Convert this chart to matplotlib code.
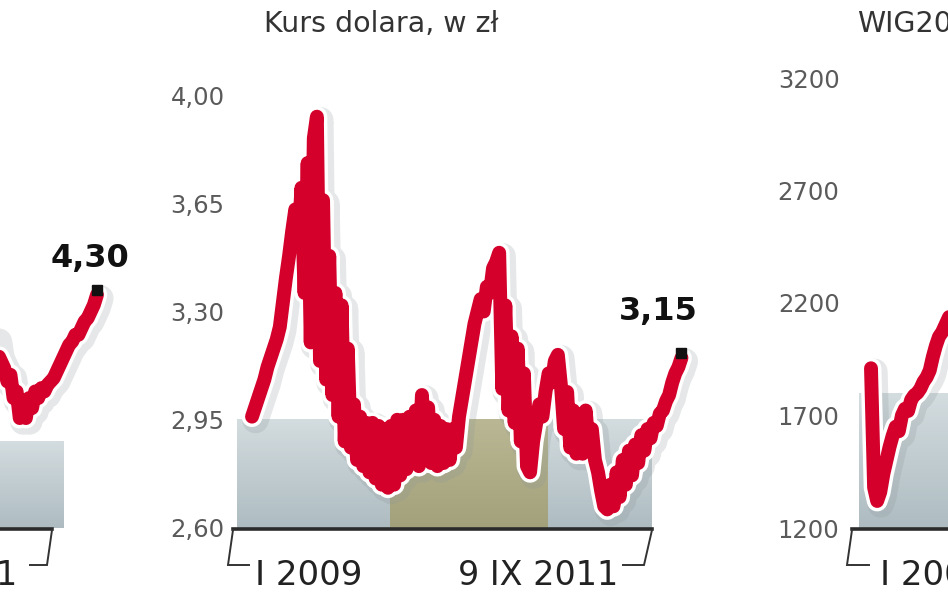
import matplotlib
matplotlib.use("Agg")
import matplotlib.pyplot as plt
import matplotlib.patheffects as pe
import matplotlib.transforms as mtransforms
from matplotlib import font_manager
from matplotlib.colors import LinearSegmentedColormap
from matplotlib.lines import Line2D
import numpy as np

W, H = 948, 593

# --- data: weekly readings, week 0 = I 2009, week 139 = 9 IX 2011 ---
usd_pln = [
    2.96, 2.99, 3.02, 3.05, 3.08, 3.12, 3.15, 3.18, 3.21, 3.25,
    3.33, 3.41, 3.48, 3.56, 3.63,
    3.52, 3.70, 3.36, 3.78, 3.20, 3.86, 3.93, 3.14, 3.66, 3.08,
    3.48, 3.03, 3.36, 2.96, 3.32, 2.88, 3.18, 2.86,
    3.00, 2.82, 2.96, 2.80, 2.94, 2.78, 2.94, 2.76, 2.93, 2.74,
    2.92, 2.73, 2.93, 2.74, 2.95, 2.77, 2.95, 2.79, 2.96, 2.82,
    2.98, 2.80, 3.03, 2.84, 2.99, 2.81, 2.95, 2.80, 2.93, 2.81,
    2.92, 2.82, 2.92, 2.86,
    2.96, 3.02, 3.08, 3.14, 3.20, 3.26, 3.30, 3.34, 3.30, 3.38,
    3.36, 3.44, 3.46, 3.49,
    3.05, 3.32, 2.98, 3.22, 2.94, 3.18, 2.88, 3.10, 2.80,
    2.78, 2.88, 2.94, 3.00, 2.96, 3.04, 3.10, 3.07, 3.14, 3.16,
    3.06, 2.92, 3.04, 2.86, 2.98, 2.84, 2.96, 2.84, 2.98, 2.86,
    2.92, 2.82, 2.78, 2.72, 2.67, 2.66,
    2.74, 2.67, 2.78, 2.70, 2.82, 2.74, 2.85, 2.77, 2.87, 2.81,
    2.90, 2.85, 2.92, 2.89, 2.94, 2.93, 2.97, 2.98, 3.01, 3.03,
    3.07, 3.10, 3.12, 3.15,
]
usd_weeks = np.arange(len(usd_pln))
usd_ticks = [2.60, 2.95, 3.30, 3.65, 4.00]

# only the end of the euro panel is inside the picture
eur_first_week = 105
eur_pln = [
    4.15, 4.18, 4.12, 4.10, 4.08, 4.04, 4.06, 3.99, 4.01, 3.93,
    3.97, 3.93, 3.99, 3.96, 4.01, 3.99, 4.02, 4.01, 4.03, 4.04,
    4.05, 4.07, 4.09, 4.11, 4.13, 4.15, 4.16, 4.18, 4.18, 4.20,
    4.22, 4.23, 4.25, 4.27, 4.30,
]
eur_weeks = np.arange(eur_first_week, eur_first_week + len(eur_pln))
eur_range = (3.60, 4.90)

# only the start of the WIG20 panel is inside the picture
wig20 = [
    1910, 1380, 1320, 1360, 1440, 1500, 1560, 1610, 1650, 1630,
    1700, 1730, 1720, 1770, 1790, 1800, 1820, 1850, 1870, 1900,
    1960, 2010, 2050, 2070, 2100, 2130, 2160, 2120, 2180, 2220,
]
wig_weeks = np.arange(len(wig20))
wig_ticks = [1200, 1700, 2200, 2700, 3200]

# background periods (weeks from, weeks to, top value, colour key)
usd_bands = [(-4.9, 44.7, 2.95, "blue"), (44.7, 95.8, 2.95, "olive"), (95.8, 129.4, 2.95, "blue")]
eur_bands = [(60.0, 128.0, 3.86, "blue")]
wig_bands = [(-4.0, 60.0, 1800, "blue")]

RED = "#d4002b"
BAND_COLORS = {"blue": ("#d3dcdf", "#aebcc1"), "olive": ("#bab894", "#a3a17b")}

names = {f.name for f in font_manager.fontManager.ttflist}
if "Liberation Sans Narrow" in names:
    VALUE_FONT, VALUE_SIZE = "Liberation Sans Narrow", 31
else:
    VALUE_FONT, VALUE_SIZE = "DejaVu Sans", 23

fig = plt.figure(figsize=(W / 100, H / 100), dpi=100)
fig.patch.set_facecolor("white")


def fx(x):
    return x / W


def fy(y):
    return 1 - y / H


def panel(x0, x1, y0, y1, ylim):
    ax = fig.add_axes([fx(x0), fy(y1), (x1 - x0) / W, (y1 - y0) / H])
    ax.set_xlim(-6.15, 145.0)
    ax.set_ylim(*ylim)
    for s in ax.spines.values():
        s.set_visible(False)
    ax.set_xticks([])
    ax.tick_params(length=0, labelsize=17.5, labelcolor="#5a5a5a")
    ax.patch.set_alpha(0)
    return ax


def fig_line(xs, ys, lw=1.4, color="#333333"):
    fig.add_artist(Line2D([fx(x) for x in xs], [fy(y) for y in ys],
                          transform=fig.transFigure, lw=lw, color=color,
                          solid_joinstyle="miter"))


def draw_bands(ax, bands):
    ylim = ax.get_ylim()
    xlim = ax.get_xlim()
    grad = np.linspace(0, 1, 64).reshape(-1, 1)
    for x0, x1, top, key in bands:
        cmap = LinearSegmentedColormap.from_list(key, BAND_COLORS[key])
        ax.imshow(grad, extent=[x0, x1, ylim[0], top], aspect="auto",
                  cmap=cmap, origin="upper", zorder=1)
    ax.set_xlim(*xlim)
    ax.set_ylim(*ylim)


def red_line(ax, weeks, values):
    ax.plot(weeks, values, color=RED, lw=10, zorder=3,
            solid_joinstyle="round", solid_capstyle="round",
            path_effects=[
                pe.Stroke(linewidth=19, foreground="#8c9598", alpha=0.22, offset=(2.5, -2.5)),
                pe.Stroke(linewidth=15, foreground="white"),
                pe.Normal(),
            ])


def end_marker(ax, weeks, values):
    marker_tr = mtransforms.offset_copy(ax.transData, fig=fig, x=0, y=5, units="dots")
    ax.plot([weeks[-1]], [values[-1]], marker="s", ms=7, color="#111111",
            transform=marker_tr, zorder=5, clip_on=False)


def value_label(ax, weeks, values, dx, dy):
    ax.annotate(f"{values[-1]:.2f}".replace(".", ","), xy=(weeks[-1], values[-1]),
                xytext=(dx, dy), textcoords="offset points", ha="right", va="baseline",
                fontsize=VALUE_SIZE, fontweight="bold", family=VALUE_FONT,
                color="#111111", annotation_clip=False, zorder=6)


# --- left panel: euro (cut off at the left edge) ---
ax_eur = panel(-351.5, 115.5, 95, 528, eur_range)
ax_eur.set_yticks([])
draw_bands(ax_eur, eur_bands)
red_line(ax_eur, eur_weeks, eur_pln)
end_marker(ax_eur, eur_weeks, eur_pln)
value_label(ax_eur, eur_weeks, eur_pln, 23, 20)
fig_line([-400, 52], [529, 529], lw=2.6, color="#2b2b2b")
fig_line([52, 47, 30], [530, 565, 565])
fig.text(fx(17), fy(585), "9 IX 2011", ha="right", va="baseline", fontsize=24, color="#222222")

# --- middle panel: dollar ---
ax_usd = panel(233, 700, 95, 528, (2.60, 4.00))
ax_usd.set_yticks(usd_ticks)
ax_usd.set_yticklabels([f"{t:.2f}".replace(".", ",") for t in usd_ticks])
ax_usd.tick_params(axis="y", pad=6)
draw_bands(ax_usd, usd_bands)
red_line(ax_usd, usd_weeks, usd_pln)
end_marker(ax_usd, usd_weeks, usd_pln)
value_label(ax_usd, usd_weeks, usd_pln, 12, 27)
fig_line([233, 652], [529, 529], lw=2.6, color="#2b2b2b")
fig_line([233, 228, 249], [530, 565, 565])
fig_line([652, 644, 623], [530, 565, 565])
fig.text(fx(381), fy(32), "Kurs dolara, w zł", ha="center", va="baseline", fontsize=20.5, color="#333333")
fig.text(fx(255), fy(585), "I 2009", ha="left", va="baseline", fontsize=24.5, color="#222222")
fig.text(fx(618), fy(585), "9 IX 2011", ha="right", va="baseline", fontsize=24, color="#222222")

# --- right panel: WIG20 (cut off at the right edge) ---
ax_wig = panel(852, 1319, 78, 528, (1200, 3200))
ax_wig.set_yticks(wig_ticks)
ax_wig.set_yticklabels([str(t) for t in wig_ticks])
ax_wig.tick_params(axis="y", pad=9)
draw_bands(ax_wig, wig_bands)
red_line(ax_wig, wig_weeks, wig20)
fig_line([852, 980], [529, 529], lw=2.6, color="#2b2b2b")
fig_line([852, 847, 869], [530, 565, 565])
fig.text(fx(857), fy(32), "WIG20", ha="left", va="baseline", fontsize=20.5, color="#333333")
fig.text(fx(880), fy(585), "I 2009", ha="left", va="baseline", fontsize=24.5, color="#222222")

fig.savefig("out.png", dpi=100, facecolor="white")
